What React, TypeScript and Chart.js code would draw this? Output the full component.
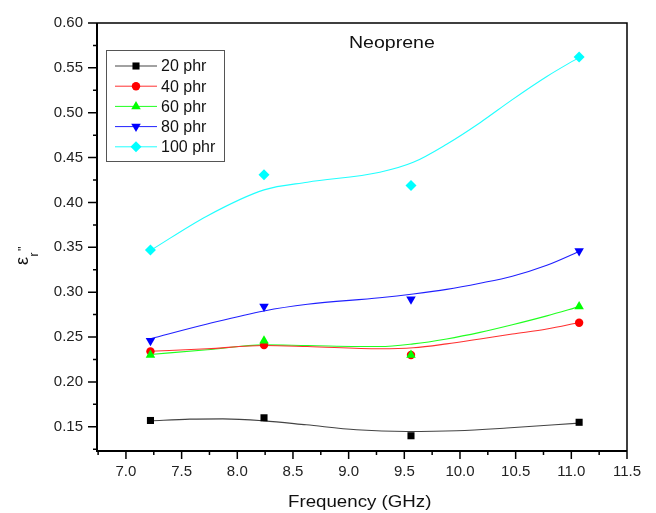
import { useEffect, useRef } from "react";
import { Chart, registerables } from "chart.js";
import { drawPoint } from "chart.js/helpers";

Chart.register(...registerables);

const FONT = '"Liberation Sans", Arial, Helvetica, sans-serif';

// Measured points (frequency in GHz, imaginary permittivity)
const freq = [7.22, 8.24, 9.56, 11.07];
const phr20 = [0.157, 0.16, 0.14, 0.155];
const phr40 = [0.234, 0.241, 0.23, 0.266];
const phr60 = [0.23, 0.246, 0.23, 0.284];
const phr80 = [0.246, 0.284, 0.292, 0.346];
const phr100 = [0.347, 0.431, 0.419, 0.562];

// Smoothed trend curves
const fitFreq20 = [7.22, 7.575, 7.87, 8.24, 8.62, 9.07, 9.52, 9.97, 10.42, 11.07];
const fit20 = [0.1566, 0.1585, 0.1588, 0.1566, 0.1522, 0.1467, 0.1448, 0.1456, 0.1486, 0.1541];
const fitFreq = [7.22, 7.73, 8.24, 8.63, 9.28, 9.58, 9.88, 10.18, 10.47, 10.78, 11.07];
const fit40 = [0.2342, 0.2369, 0.2405, 0.2394, 0.2369, 0.238, 0.2424, 0.2479, 0.2534, 0.2589, 0.2662];
const fit60 = [0.2306, 0.2358, 0.2413, 0.2405, 0.2394, 0.2424, 0.2479, 0.2552, 0.2637, 0.2736, 0.2839];
const fit80 = [0.2482, 0.2645, 0.2791, 0.2865, 0.2938, 0.298, 0.3031, 0.31, 0.3178, 0.33, 0.3454];
const fit100 = [0.3465, 0.385, 0.414, 0.4226, 0.4337, 0.4447, 0.4649, 0.4889, 0.5146, 0.5404, 0.5617];

const seriesLabels = ["20 phr", "40 phr", "60 phr", "80 phr", "100 phr"];
const seriesValues = [phr20, phr40, phr60, phr80, phr100];
const fitXs = [fitFreq20, fitFreq, fitFreq, fitFreq, fitFreq];
const fitYs = [fit20, fit40, fit60, fit80, fit100];
const seriesColors = ["#000000", "#ff0000", "#00ff00", "#0000ff", "#00ffff"];
const lineColors = ["#444444", "#ff3030", "#20ff20", "#2020ff", "#20ffff"];
const markerStyles = [
  { pointStyle: "rect", radius: 5, rotation: 0 },
  { pointStyle: "circle", radius: 4.2, rotation: 0 },
  { pointStyle: "triangle", radius: 5.5, rotation: 0 },
  { pointStyle: "triangle", radius: 5.5, rotation: 180 },
  { pointStyle: "rectRot", radius: 5.5, rotation: 0 },
];

const chartTitle = "Neoprene";
const xTitle = "Frequency (GHz)";
const xMin = 6.74;
const xMax = 11.5;
const xStep = 0.5;
const yMin = 0.123;
const yMax = 0.6;
const yStep = 0.05;

function stretchedText(ctx: CanvasRenderingContext2D, text: string, x: number, y: number, sx: number) {
  ctx.save();
  ctx.translate(x, y);
  ctx.scale(sx, 1);
  ctx.fillText(text, 0, 0);
  ctx.restore();
}

const decorPlugin = {
  id: "decor",
  afterDraw(chart: any) {
    const ctx: CanvasRenderingContext2D = chart.ctx;
    const { left, right, top, bottom } = chart.chartArea;
    const xs = chart.scales.x;
    const ys = chart.scales.y;
    ctx.save();

    // frame
    ctx.strokeStyle = "#000";
    ctx.lineWidth = 1.5;
    ctx.beginPath();
    ctx.moveTo(left, top);
    ctx.lineTo(right, top);
    ctx.lineTo(right, bottom);
    ctx.stroke();
    ctx.lineWidth = 2;
    ctx.beginPath();
    ctx.moveTo(left, top);
    ctx.lineTo(left, bottom);
    ctx.lineTo(right, bottom);
    ctx.stroke();

    // major and minor ticks, pointing outward
    ctx.lineWidth = 1.5;
    ctx.beginPath();
    xs.ticks.forEach((t: any) => {
      const px = xs.getPixelForValue(t.value);
      ctx.moveTo(px, bottom);
      ctx.lineTo(px, bottom + 8);
      const mv = t.value - xStep / 2;
      if (mv >= xMin) {
        const mp = xs.getPixelForValue(mv);
        ctx.moveTo(mp, bottom);
        ctx.lineTo(mp, bottom + 4);
      }
    });
    ys.ticks.forEach((t: any) => {
      const py = ys.getPixelForValue(t.value);
      ctx.moveTo(left, py);
      ctx.lineTo(left - 9, py);
      const mv = t.value - yStep / 2;
      if (mv >= yMin) {
        const mp = ys.getPixelForValue(mv);
        ctx.moveTo(left, mp);
        ctx.lineTo(left - 4, mp);
      }
    });
    ctx.stroke();

    // legend
    const bx = 106.5;
    const by = 50.5;
    ctx.lineWidth = 1;
    ctx.strokeStyle = "#555";
    ctx.strokeRect(bx, by, 118, 111);
    ctx.font = `16px ${FONT}`;
    ctx.textBaseline = "middle";
    ctx.textAlign = "left";
    seriesLabels.forEach((label, i) => {
      const ry = 66 + i * 20.2;
      ctx.strokeStyle = lineColors[i];
      ctx.lineWidth = 1;
      ctx.beginPath();
      ctx.moveTo(115, ry);
      ctx.lineTo(157, ry);
      ctx.stroke();
      ctx.fillStyle = seriesColors[i];
      ctx.strokeStyle = seriesColors[i];
      drawPoint(ctx, { ...markerStyles[i], borderWidth: 0 } as any, 136, ry);
      ctx.fillStyle = "#111";
      ctx.fillText(label, 161, ry + 1);
    });

    // chart title inside plot
    ctx.fillStyle = "#111";
    ctx.textBaseline = "alphabetic";
    ctx.font = `17px ${FONT}`;
    stretchedText(ctx, chartTitle, 349, 47.5, 1.15);

    // x axis title
    ctx.font = `17px ${FONT}`;
    stretchedText(ctx, xTitle, 288, 507, 1.1);

    // y axis title: epsilon with subscript r and double-prime
    ctx.save();
    ctx.translate(28, 265);
    ctx.rotate(-Math.PI / 2);
    ctx.font = `18px ${FONT}`;
    ctx.fillText("\u03b5", 0, 0);
    const w = ctx.measureText("\u03b5").width;
    ctx.font = `12px ${FONT}`;
    ctx.fillText("r", w + 0.5, 10);
    ctx.fillText("''", w + 6, -1.5);
    ctx.restore();

    ctx.restore();
  },
};

export default function App() {
  const canvasRef = useRef<HTMLCanvasElement | null>(null);

  useEffect(() => {
    document.body.style.margin = "0";
    const canvas = canvasRef.current;
    if (!canvas) return;

    const datasets: any[] = [];
    seriesLabels.forEach((label, i) => {
      datasets.push({
        label: label + " fit",
        data: fitXs[i].map((x, k) => ({ x, y: fitYs[i][k] })),
        borderColor: lineColors[i],
        borderWidth: 1.1,
        pointRadius: 0,
        fill: false,
        cubicInterpolationMode: "monotone",
        order: 10,
      });
      datasets.push({
        label,
        data: freq.map((x, k) => ({ x, y: seriesValues[i][k] })),
        showLine: false,
        pointStyle: markerStyles[i].pointStyle,
        pointRadius: markerStyles[i].radius,
        pointRotation: markerStyles[i].rotation,
        backgroundColor: seriesColors[i],
        borderColor: seriesColors[i],
        borderWidth: 0,
        order: -i,
      });
    });

    const chart = new Chart(canvas, {
      type: "line",
      data: { datasets },
      options: {
        responsive: false,
        animation: false,
        layout: { padding: { top: 19, right: 29, left: 0, bottom: 0 } },
        plugins: {
          legend: { display: false },
          tooltip: { enabled: false },
        },
        scales: {
          x: {
            type: "linear",
            min: xMin,
            max: xMax,
            grid: { display: false, drawTicks: false },
            border: { display: false },
            ticks: {
              stepSize: xStep,
              includeBounds: false,
              autoSkip: false,
              maxRotation: 0,
              padding: 12,
              color: "#222",
              font: { family: FONT, size: 15 },
              callback: (v: any) => Number(v).toFixed(1),
            },
            afterFit: (s: any) => {
              s.height = 62;
            },
          },
          y: {
            type: "linear",
            min: yMin,
            max: yMax,
            grid: { display: false, drawTicks: false },
            border: { display: false },
            ticks: {
              stepSize: yStep,
              includeBounds: false,
              autoSkip: false,
              padding: 14,
              color: "#222",
              font: { family: FONT, size: 15 },
              callback: (v: any) => Number(v).toFixed(2),
            },
            afterFit: (s: any) => {
              s.width = 97;
            },
          },
        },
      } as any,
      plugins: [decorPlugin],
    });

    return () => chart.destroy();
  }, []);

  return (
    <div style={{ width: 656, height: 513, background: "#fff" }}>
      <canvas ref={canvasRef} width={656} height={513} />
    </div>
  );
}
